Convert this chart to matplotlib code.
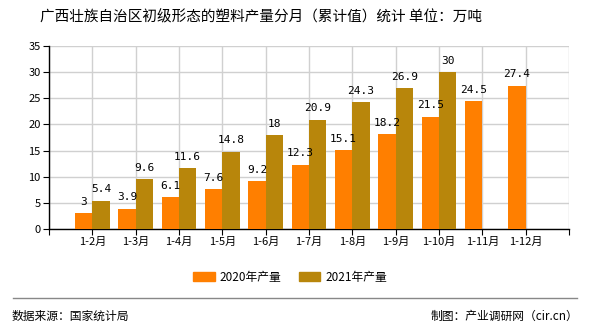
import matplotlib
matplotlib.use("Agg")
import matplotlib.pyplot as plt
from matplotlib.lines import Line2D

plt.rcParams['font.family'] = ['Noto Sans CJK SC', 'DejaVu Sans']

categories = ["1-2月", "1-3月", "1-4月", "1-5月", "1-6月", "1-7月", "1-8月",
              "1-9月", "1-10月", "1-11月", "1-12月"]
values_2020 = [3, 3.9, 6.1, 7.6, 9.2, 12.3, 15.1, 18.2, 21.5, 24.5, 27.4]
values_2021 = [5.4, 9.6, 11.6, 14.8, 18, 20.9, 24.3, 26.9, 30, None, None]
series_names = ["2020年产量", "2021年产量"]
colors = ["#FF7F00", "#B8860B"]
title = "广西壮族自治区初级形态的塑料产量分月（累计值）统计 单位：万吨"
source = "数据来源：国家统计局"
credit = "制图：产业调研网（cir.cn）"

fig = plt.figure(figsize=(5.9, 3.3), dpi=100)
ax = fig.add_axes([49/590, 1-229/330, 520/590, 183/330])

w = 0.4
xs = list(range(1, len(categories) + 1))
for x, v in zip(xs, values_2020):
    if v is None:
        continue
    ax.bar(x - w/2, v, width=w, color=colors[0], zorder=3)
    ax.text(x - w/2, v + 1.2, f"{v:g}", ha='center', va='bottom', fontsize=8,
            family='DejaVu Sans Mono', zorder=4)
for x, v in zip(xs, values_2021):
    if v is None:
        continue
    ax.bar(x + w/2, v, width=w, color=colors[1], zorder=3)
    ax.text(x + w/2, v + 1.2, f"{v:g}", ha='center', va='bottom', fontsize=8,
            family='DejaVu Sans Mono', zorder=4)

ax.set_xlim(0, len(categories) + 1)
ax.set_ylim(0, 35)
ax.set_yticks(range(0, 36, 5))
ax.set_xticks(range(0, len(categories) + 2))
ax.set_xticklabels([""] + categories + [""], fontsize=8)
ax.tick_params(axis='y', labelsize=8, length=4, pad=2)
ax.tick_params(axis='x', length=4, pad=2)
ax.grid(True, color="#d0d0d0", linewidth=1, zorder=0)
for s in ['top', 'right']:
    ax.spines[s].set_visible(False)
for s in ['left', 'bottom']:
    ax.spines[s].set_color('black')
    ax.spines[s].set_linewidth(1)

fig.text(261/590, 1-17/330, title, ha='center', va='center', fontsize=10.5)

handles = [plt.Rectangle((0, 0), 1, 1, color=c) for c in colors]
fig.legend(handles, series_names, loc='center', bbox_to_anchor=(290/590, 1-277/330),
           ncol=2, frameon=False, fontsize=8.5, handlelength=1.85, handleheight=0.9,
           columnspacing=1.45, handletextpad=0.4)

fig.add_artist(Line2D([13/590, 577/590], [1-298/330, 1-298/330], color='#888888', linewidth=1))
fig.text(12/590, 1-316/330, source, ha='left', va='center', fontsize=8.5)
fig.text(578/590, 1-316/330, credit, ha='right', va='center', fontsize=8.5)

fig.savefig("out.png", dpi=100)
